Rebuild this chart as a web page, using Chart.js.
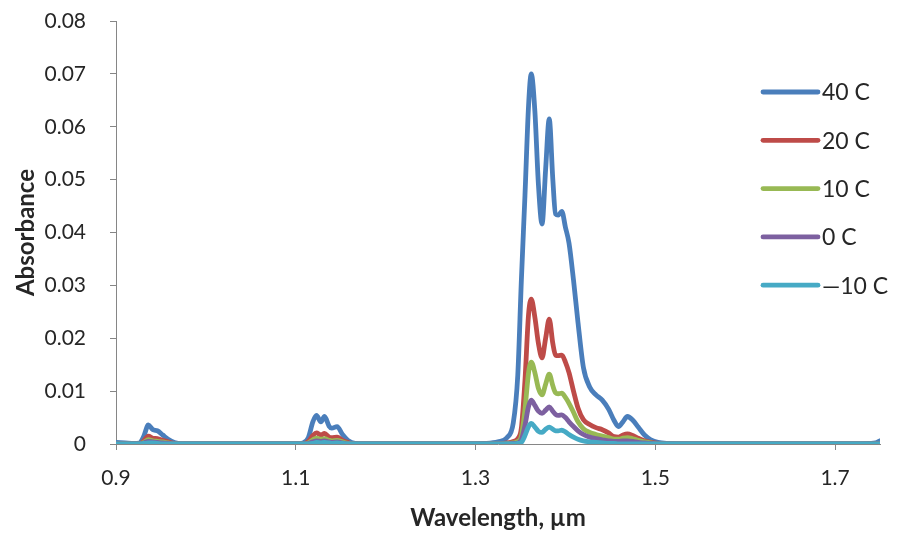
<!DOCTYPE html>
<html>
<head>
<meta charset="utf-8">
<script src="https://cdn.jsdelivr.net/npm/chart.js@4/dist/chart.umd.min.js"></script>
<style>
  html, body { margin: 0; padding: 0; background: #ffffff; }
  #wrap { width: 898px; height: 535px; position: relative; }
</style>
</head>
<body>
<div id="wrap"><canvas id="chart"></canvas></div>
<script>
// Wavelength grid (µm) shared by all temperature series
const wavelength = [
  0.900, 0.910, 0.920, 0.926, 0.931, 0.936, 0.941, 0.946, 0.952, 0.958, 0.965, 0.975,
  1.000, 1.050, 1.100, 1.108, 1.114, 1.119, 1.123, 1.128, 1.132, 1.137, 1.140, 1.146,
  1.152, 1.158, 1.166, 1.180, 1.220, 1.280, 1.310, 1.325, 1.335, 1.342, 1.347, 1.351,
  1.355, 1.359, 1.362, 1.366, 1.370, 1.374, 1.378, 1.382, 1.386, 1.389, 1.392, 1.396,
  1.400, 1.404, 1.409, 1.414, 1.420, 1.427, 1.434, 1.441, 1.448, 1.454, 1.459, 1.464,
  1.469, 1.475, 1.481, 1.488, 1.495, 1.503, 1.515, 1.540, 1.600, 1.680, 1.720, 1.745,
  1.750
];

const abs40 = [
  0.0003, 0.0002, 0.0001, 0.0002, 0.0015, 0.0036, 0.0027, 0.0025, 0.0017, 0.0009, 0.0003, 0.0000,
  0.0000, 0.0000, 0.0000, 0.0002, 0.0012, 0.0042, 0.0054, 0.0042, 0.0052, 0.0034, 0.0030, 0.0033,
  0.0018, 0.0007, 0.0001, 0.0000, 0.0000, 0.0000, 0.0001, 0.0004, 0.0012, 0.0040, 0.0130, 0.0310,
  0.0470, 0.0640, 0.0700, 0.0630, 0.0490, 0.0416, 0.0520, 0.0615, 0.0500, 0.0435, 0.0433, 0.0440,
  0.0410, 0.0380, 0.0310, 0.0230, 0.0145, 0.0108, 0.0093, 0.0083, 0.0066, 0.0045, 0.0033, 0.0042,
  0.0052, 0.0045, 0.0032, 0.0017, 0.0008, 0.0003, 0.0001, 0.0000, 0.0000, 0.0000, 0.0000, 0.0002,
  0.0006
];

const abs20 = [
  0.0000, 0.0000, 0.0000, 0.0000, 0.0006, 0.0015, 0.0011, 0.0010, 0.0007, 0.0004, 0.0001, 0.0000,
  0.0000, 0.0000, 0.0000, 0.0000, 0.0005, 0.0016, 0.0021, 0.0017, 0.0020, 0.0013, 0.0012, 0.0013,
  0.0007, 0.0003, 0.0000, 0.0000, 0.0000, 0.0000, 0.0000, 0.0000, 0.0002, 0.0005, 0.0010, 0.0030,
  0.0120, 0.0245, 0.0274, 0.0240, 0.0190, 0.0163, 0.0200, 0.0236, 0.0190, 0.0168, 0.0167, 0.0168,
  0.0155, 0.0135, 0.0100, 0.0068, 0.0046, 0.0037, 0.0031, 0.0027, 0.0021, 0.0014, 0.0013, 0.0017,
  0.0019, 0.0016, 0.0011, 0.0006, 0.0003, 0.0001, 0.0000, 0.0000, 0.0000, 0.0000, 0.0000, 0.0000,
  0.0000
];

const abs10 = [
  0.0000, 0.0000, 0.0000, 0.0000, 0.0003, 0.0008, 0.0006, 0.0005, 0.0004, 0.0002, 0.0000, 0.0000,
  0.0000, 0.0000, 0.0000, 0.0000, 0.0002, 0.0008, 0.0011, 0.0009, 0.0010, 0.0007, 0.0006, 0.0007,
  0.0004, 0.0001, 0.0000, 0.0000, 0.0000, 0.0000, 0.0000, 0.0000, 0.0001, 0.0002, 0.0005, 0.0015,
  0.0065, 0.0135, 0.0155, 0.0135, 0.0105, 0.0093, 0.0113, 0.0132, 0.0110, 0.0097, 0.0095, 0.0096,
  0.0088, 0.0077, 0.0060, 0.0042, 0.0029, 0.0022, 0.0018, 0.0015, 0.0012, 0.0009, 0.0009, 0.0011,
  0.0012, 0.0010, 0.0007, 0.0004, 0.0002, 0.0000, 0.0000, 0.0000, 0.0000, 0.0000, 0.0000, 0.0000,
  0.0000
];

const abs0 = [
  0.0000, 0.0000, 0.0000, 0.0000, 0.0002, 0.0005, 0.0004, 0.0003, 0.0002, 0.0001, 0.0000, 0.0000,
  0.0000, 0.0000, 0.0000, 0.0000, 0.0001, 0.0004, 0.0006, 0.0005, 0.0006, 0.0004, 0.0003, 0.0004,
  0.0002, 0.0000, 0.0000, 0.0000, 0.0000, 0.0000, 0.0000, 0.0000, 0.0000, 0.0001, 0.0002, 0.0008,
  0.0035, 0.0071, 0.0083, 0.0073, 0.0062, 0.0058, 0.0064, 0.0070, 0.0062, 0.0056, 0.0054, 0.0055,
  0.0050, 0.0042, 0.0033, 0.0025, 0.0018, 0.0013, 0.0010, 0.0008, 0.0006, 0.0005, 0.0005, 0.0006,
  0.0006, 0.0005, 0.0003, 0.0002, 0.0001, 0.0000, 0.0000, 0.0000, 0.0000, 0.0000, 0.0000, 0.0000,
  0.0000
];

const absM10 = [
  0.0000, 0.0000, 0.0000, 0.0000, 0.0001, 0.0002, 0.0002, 0.0001, 0.0000, 0.0000, 0.0000, 0.0000,
  0.0000, 0.0000, 0.0000, 0.0000, 0.0000, 0.0001, 0.0003, 0.0002, 0.0003, 0.0002, 0.0001, 0.0002,
  0.0001, 0.0000, 0.0000, 0.0000, 0.0000, 0.0000, 0.0000, 0.0000, 0.0000, 0.0000, 0.0001, 0.0003,
  0.0016, 0.0033, 0.0039, 0.0032, 0.0024, 0.0022, 0.0028, 0.0032, 0.0028, 0.0025, 0.0025, 0.0026,
  0.0023, 0.0018, 0.0013, 0.0009, 0.0006, 0.0004, 0.0003, 0.0002, 0.0001, 0.0001, 0.0000, 0.0000,
  0.0000, 0.0000, 0.0000, 0.0000, 0.0000, 0.0000, 0.0000, 0.0000, 0.0000, 0.0000, 0.0000, 0.0000,
  0.0000
];

const seriesLabels = ['40 C', '20 C', '10 C', '0 C', '\u201410 C'];
const seriesValues = [abs40, abs20, abs10, abs0, absM10];
const seriesColors = ['#4A7EBB', '#BE4B48', '#98B954', '#7D60A0', '#46AAC5'];

const xTickValues = [0.9, 1.1, 1.3, 1.5, 1.7];
const xTickLabels = ['0.9', '1.1', '1.3', '1.5', '1.7'];
const yTickValues = [0, 0.01, 0.02, 0.03, 0.04, 0.05, 0.06, 0.07, 0.08];
const yTickLabels = ['0', '0.01', '0.02', '0.03', '0.04', '0.05', '0.06', '0.07', '0.08'];

const FONT = 'Lato, "Open Sans", "DejaVu Sans", sans-serif';
const AXIS_GRAY = '#868686';
const TEXT = '#262626';

const datasets = seriesValues.map((vals, i) => ({
  label: seriesLabels[i],
  data: wavelength.map((w, k) => ({ x: w, y: vals[k] })),
  borderColor: seriesColors[i],
  backgroundColor: seriesColors[i],
  borderWidth: 4.8,
  borderCapStyle: 'round',
  borderJoinStyle: 'round',
  pointRadius: 0,
  showLine: true,
  fill: false,
  cubicInterpolationMode: 'monotone',
  order: seriesValues.length - i   // warmer series underneath, coldest on top
}));

// Legend drawn inside the plot area, at its upper right
const insideLegend = {
  id: 'insideLegend',
  afterDatasetsDraw(chart) {
    const { ctx, chartArea } = chart;
    const x0 = chartArea.right - 117;
    const x1 = chartArea.right - 62;
    const y0 = 92;
    const gap = 48.3;
    ctx.save();
    ctx.font = '23px ' + FONT;
    ctx.textBaseline = 'middle';
    ctx.textAlign = 'left';
    seriesLabels.forEach((lab, i) => {
      const y = y0 + i * gap;
      ctx.strokeStyle = seriesColors[i];
      ctx.lineWidth = 4.8;
      ctx.lineCap = 'round';
      ctx.beginPath();
      ctx.moveTo(x0, y);
      ctx.lineTo(x1, y);
      ctx.stroke();
      ctx.fillStyle = TEXT;
      ctx.fillText(lab, x1 + 4, y + 1);
    });
    ctx.restore();
  }
};

new Chart(document.getElementById('chart'), {
  type: 'scatter',
  data: { datasets },
  plugins: [insideLegend],
  options: {
    responsive: true,
    maintainAspectRatio: false,
    animation: false,
    layout: { padding: { left: 0, top: 21, right: 18, bottom: 0 } },
    plugins: {
      legend: { display: false },
      tooltip: { enabled: false }
    },
    scales: {
      x: {
        type: 'linear',
        min: 0.9,
        max: 1.75,
        afterBuildTicks: (s) => { s.ticks = xTickValues.map(v => ({ value: v })); },
        afterFit: (s) => { s.height = 91; },
        ticks: {
          callback: (v) => xTickLabels[xTickValues.indexOf(v)],
          font: { family: FONT, size: 21 },
          color: TEXT,
          padding: 16,
          maxRotation: 0,
          autoSkip: false
        },
        grid: { drawOnChartArea: false, drawTicks: true, tickLength: 6, color: AXIS_GRAY },
        border: { display: true, color: AXIS_GRAY, width: 1 },
        title: {
          display: true,
          text: 'Wavelength, \u00b5m',
          font: { family: FONT, size: 24, weight: 'bold' },
          color: TEXT,
          padding: { top: 0, bottom: 2 }
        }
      },
      y: {
        type: 'linear',
        min: 0,
        max: 0.08,
        afterBuildTicks: (s) => { s.ticks = yTickValues.map(v => ({ value: v })); },
        afterFit: (s) => { s.width = 116; s.paddingTop = 0; s.paddingBottom = 0; },
        ticks: {
          callback: (v) => yTickLabels[yTickValues.findIndex(t => Math.abs(t - v) < 1e-9)],
          font: { family: FONT, size: 21 },
          color: TEXT,
          padding: 24,
          autoSkip: false
        },
        grid: { drawOnChartArea: false, drawTicks: true, tickLength: 6, color: AXIS_GRAY },
        border: { display: true, color: AXIS_GRAY, width: 1 },
        title: {
          display: true,
          text: 'Absorbance',
          font: { family: FONT, size: 24, weight: 'bold' },
          color: TEXT,
          padding: { top: 12, bottom: 0 }
        }
      }
    }
  }
});
</script>
</body>
</html>
